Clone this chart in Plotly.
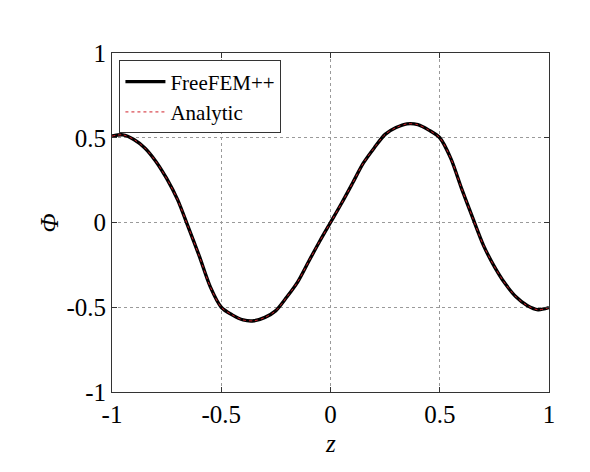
import plotly.graph_objects as go

z_vals = [-1.00, -0.95, -0.90, -0.85, -0.80, -0.75, -0.70, -0.65, -0.60, -0.55,
          -0.50, -0.45, -0.40, -0.35, -0.30, -0.25, -0.20, -0.15, -0.10, -0.05,
          0.00, 0.05, 0.10, 0.15, 0.20, 0.25, 0.30, 0.35, 0.40, 0.45,
          0.50, 0.55, 0.60, 0.65, 0.70, 0.75, 0.80, 0.85, 0.90, 0.95, 1.00]

phi_freefem = [0.510, 0.517, 0.490, 0.440, 0.362, 0.260, 0.135, -0.030, -0.200, -0.380,
               -0.500, -0.545, -0.575, -0.580, -0.560, -0.520, -0.440, -0.350, -0.230, -0.112,
               0.000, 0.112, 0.230, 0.350, 0.440, 0.520, 0.560, 0.582, 0.577, 0.545,
               0.500, 0.380, 0.200, 0.030, -0.135, -0.260, -0.362, -0.440, -0.490, -0.515, -0.502]

phi_analytic = list(phi_freefem)

x_ticks = [-1, -0.5, 0, 0.5, 1]
x_tick_labels = ["-1", "-0.5", "0", "0.5", "1"]
y_ticks = [-1, -0.5, 0, 0.5, 1]
y_tick_labels = ["-1", "-0.5", "0", "0.5", "1"]

font_family = "Liberation Serif"

fig = go.Figure()
fig.add_trace(go.Scatter(x=z_vals, y=phi_freefem, mode="lines", name="FreeFEM++",
                         line=dict(color="black", width=3.4, shape="spline", smoothing=0.8)))
fig.add_trace(go.Scatter(x=z_vals, y=phi_analytic, mode="lines", name="Analytic",
                         line=dict(color="#d0202a", width=1, dash="dot", shape="spline", smoothing=0.8)))

axis_common = dict(
    showline=True, linecolor="#333333", linewidth=1, mirror="ticks",
    ticks="inside", ticklen=5, tickcolor="#333333",
    showgrid=True, gridcolor="#9a9a9a", griddash="dot", gridwidth=1,
    zeroline=False,
    tickfont=dict(family=font_family, size=25, color="black"),
)

fig.update_xaxes(range=[-1, 1], tickvals=x_ticks, ticktext=x_tick_labels, **axis_common)
fig.update_yaxes(range=[-1, 1], tickvals=y_ticks, ticktext=y_tick_labels, **axis_common)

title_font = dict(family=font_family, size=25, color="black", style="italic")
fig.add_annotation(text="z", xref="paper", yref="paper", x=0.5, y=-0.152,
                   xanchor="center", yanchor="middle", showarrow=False, font=title_font)
fig.add_annotation(text="Φ", xref="paper", yref="paper", x=-0.142, y=0.5,
                   xanchor="center", yanchor="middle", textangle=-90, showarrow=False,
                   font=title_font)

fig.update_layout(
    width=590, height=472,
    margin=dict(l=104, r=49, t=45, b=88),
    paper_bgcolor="white", plot_bgcolor="white",
    showlegend=True,
    legend=dict(x=0.017, y=0.978, xanchor="left", yanchor="top",
                bgcolor="white", bordercolor="#333333", borderwidth=1,
                font=dict(family=font_family, size=21, color="black"),
                tracegroupgap=0, itemwidth=40),
)

fig.write_html("out.html")
